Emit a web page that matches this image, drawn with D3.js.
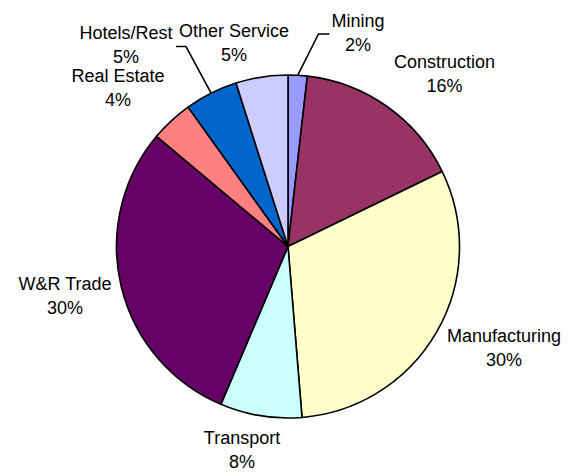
<!DOCTYPE html>
<html>
<head>
<meta charset="utf-8">
<script src="https://cdn.jsdelivr.net/npm/d3@7"></script>
<style>
  html, body { margin: 0; padding: 0; background: #fff; }
  svg { display: block; }
  text { font-family: "Liberation Sans", Arial, sans-serif; font-size: 18px; fill: #000; }
</style>
</head>
<body>
<svg id="chart" width="574" height="472"></svg>
<script>
// Data
const categories = ["Mining", "Construction", "Manufacturing", "Transport", "W&R Trade", "Real Estate", "Hotels/Rest", "Other Service"];
const values = [1.8, 16.0, 30.9, 7.7, 29.7, 4.0, 5.0, 4.9];
const percentLabels = ["2%", "16%", "30%", "8%", "30%", "4%", "5%", "5%"];
const colors = ["#9999FF", "#993366", "#FFFFCC", "#CCFFFF", "#660066", "#FF8080", "#0066CC", "#CCCCFF"];

// Layout
const cx = 288, cy = 246.5, radius = 171.5;
const labelLayout = {
  "Mining":        { x: 358, y: 27,  leader: [[318.5, 34], [329.5, 34]] },
  "Construction":  { x: 444.5, y: 67.5 },
  "Manufacturing": { x: 504, y: 341.5 },
  "Transport":     { x: 242, y: 444 },
  "W&R Trade":     { x: 65,  y: 289.5 },
  "Real Estate":   { x: 118, y: 81.5 },
  "Hotels/Rest":   { x: 126, y: 39,  leader: [[186, 46.5], [176, 46.5]] },
  "Other Service": { x: 234, y: 36.5 }
};
const lineGap = 24;

const svg = d3.select("#chart");
const g = svg.append("g").attr("transform", `translate(${cx},${cy})`);

const data = categories.map((c, i) => ({ name: c, value: values[i], label: percentLabels[i], color: colors[i] }));

const pie = d3.pie().value(d => d.value).sort(null);
const arc = d3.arc().innerRadius(0).outerRadius(radius);
const arcs = pie(data);

g.selectAll("path.slice")
  .data(arcs)
  .join("path")
  .attr("class", "slice")
  .attr("d", arc)
  .attr("fill", d => d.data.color)
  .attr("stroke", "#000")
  .attr("stroke-width", 1.6)
  .attr("stroke-linejoin", "round");

// leader lines
arcs.forEach(a => {
  const lay = labelLayout[a.data.name];
  if (!lay.leader) return;
  const mid = (a.startAngle + a.endAngle) / 2;
  const start = [cx + radius * Math.sin(mid), cy - radius * Math.cos(mid)];
  const pts = [start, ...lay.leader];
  svg.append("path")
    .attr("d", d3.line()(pts))
    .attr("fill", "none")
    .attr("stroke", "#000")
    .attr("stroke-width", 1.6);
});

// labels
arcs.forEach(a => {
  const lay = labelLayout[a.data.name];
  const t = svg.append("text").attr("text-anchor", "middle");
  t.append("tspan").attr("x", lay.x).attr("y", lay.y).text(a.data.name);
  t.append("tspan").attr("x", lay.x).attr("y", lay.y + lineGap).text(a.data.label);
});
</script>
</body>
</html>
